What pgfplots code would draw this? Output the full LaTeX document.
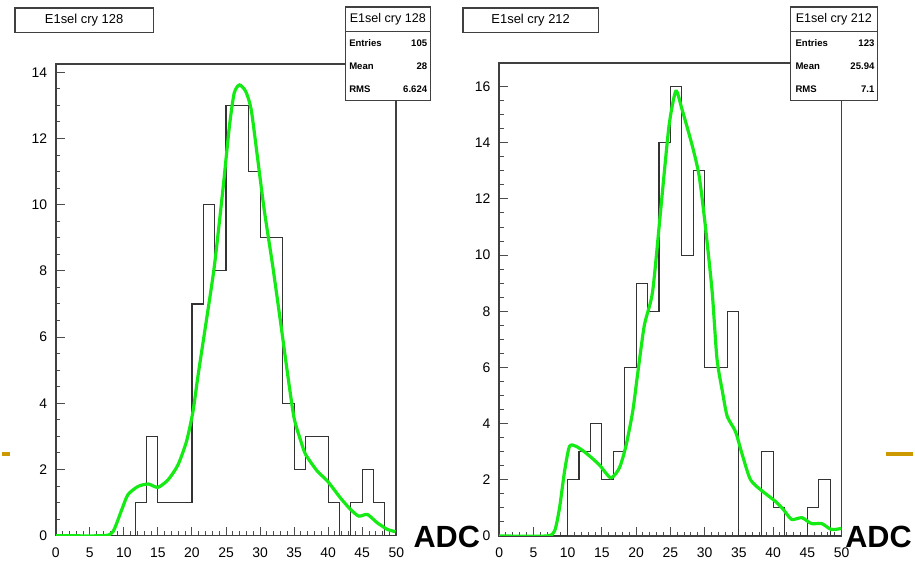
\documentclass[border=0pt]{standalone}
\usepackage{pgfplots}
\pgfplotsset{compat=1.18}
\usepackage{fontspec}
\setmainfont{Liberation Sans}
\definecolor{rootgreen}{RGB}{20,235,20}
\definecolor{gold}{RGB}{204,153,0}
\pgfplotsset{roothist/.style={
  scale only axis, anchor=south west,
  xmin=0, xmax=50, ymin=0,
  axis line style={black!75, line width=0.8pt},
  tick align=inside, tick pos=left,
  xtick={0,5,...,50}, minor x tick num=4,
  ytick distance=2, minor y tick num=3,
  major tick length=4.5pt, minor tick length=2.2pt,
  tick style={black!70, line width=0.5pt},
  ticklabel style={font=\fontsize{7}{8}\selectfont},
  /pgf/number format/assume math mode=true,
  xticklabel style={yshift=-2.5pt},
  yticklabel style={xshift=-0.8pt},
}}
\begin{document}
\begin{tikzpicture}
\path (0,0) rectangle (457.5pt,-280.5pt);
% left panel
\begin{axis}[roothist, at={(27pt,-269pt)}, width=171pt, height=237pt, ymax=14.26]
\addplot[const plot, black!80, line width=0.55pt] coordinates {
(0,0)(1.6667,0)(3.3333,0)(5,0)(6.6667,0)(8.3333,0)(10,0)(11.6667,1)(13.3333,3)(15,1)
(16.6667,1)(18.3333,1)(20,7)(21.6667,10)(23.3333,8)(25,13)(26.6667,13)(28.3333,11)(30,9)
(31.6667,9)(33.3333,4)(35,2)(36.6667,3)(38.3333,3)(40,1)(41.6667,0)(43.3333,1)(45,2)
(46.6667,1)(48.3333,0)(50,0)};
\addplot[rootgreen, line width=1.6pt, smooth, tension=0.4] coordinates {
(0,0)(7,0)(8.4,0.12)(9.7,0.79)(10.6,1.24)(12.1,1.49)(13.6,1.56)(15.0,1.46)(16.5,1.69)
(17.95,2.14)(19.2,2.85)(20.15,3.75)(20.9,4.85)(22.3,6.75)(23.3,8.16)(24.5,10.37)(25.5,12.37)
(26.2,13.37)(26.97,13.62)(27.9,13.42)(28.7,12.87)(29.66,11.37)(30.6,9.86)(31.85,8.16)
(33.07,6.36)(34.1,4.8)(35.0,3.55)(36.0,2.85)(36.7,2.45)(38.4,1.95)(39.9,1.65)(41.8,1.14)
(43.3,0.79)(44.5,0.59)(45.76,0.64)(47.2,0.39)(48.7,0.19)(49.9,0.12)};
\end{axis}
% right panel
\begin{axis}[roothist, at={(249.65pt,-269.15pt)}, width=172pt, height=237.5pt, ymax=16.84]
\addplot[const plot, black!80, line width=0.55pt] coordinates {
(0,0)(1.6667,0)(3.3333,0)(5,0)(6.6667,0)(8.3333,0)(10,2)(11.6667,3)(13.3333,4)(15,2)
(16.6667,3)(18.3333,6)(20,9)(21.6667,8)(23.3333,14)(25,16)(26.6667,10)(28.3333,13)(30,6)
(31.6667,6)(33.3333,8)(35,0)(36.6667,0)(38.3333,3)(40,1)(41.6667,0)(43.3333,0)(45,1)
(46.6667,2)(48.3333,0)(50,0)};
\addplot[rootgreen, line width=1.6pt, smooth, tension=0.4] coordinates {
(0,0)(6.9,0)(8.1,0.18)(8.82,1.0)(9.55,2.3)(10.27,3.19)(11.25,3.19)(12.7,2.95)(14.6,2.54)
(16.3,2.07)(17.55,2.42)(18.5,3.19)(19.5,4.43)(20.2,5.73)(21.2,7.5)(22.4,8.69)(23.6,11.64)
(24.8,14.6)(25.8,15.84)(26.7,15.19)(28.2,13.89)(29.2,12.82)(30.1,11.05)(31.1,8.69)
(31.8,6.32)(32.6,5.14)(33.3,4.26)(34.5,3.72)(35.5,2.89)(36.7,2.0)(38.4,1.6)(40.3,1.24)
(41.5,0.94)(42.7,0.59)(44.2,0.65)(45.6,0.44)(47.1,0.44)(48.5,0.23)(50,0.27)};
\end{axis}
% title boxes
\draw[black!75, line width=0.6pt, fill=white] (6.5pt,-4pt) rectangle (76pt,-16.5pt);
\node[font=\fontsize{6.5}{7}\selectfont] at (41.25pt,-10.25pt) {E1sel cry 128};
\draw[black!75, line width=0.6pt, fill=white] (231.5pt,-4pt) rectangle (299.5pt,-16.5pt);
\node[font=\fontsize{6.5}{7}\selectfont] at (265.5pt,-10.25pt) {E1sel cry 212};
% stats boxes
\draw[black!75, line width=0.6pt, fill=white] (172.5pt,-3.5pt) rectangle (215pt,-50.5pt);
\draw[black!75, line width=0.6pt] (172.5pt,-16pt) -- (215pt,-16pt);
\node[font=\fontsize{6.3}{7}\selectfont] at (193.75pt,-9.75pt) {E1sel cry 128};
\begin{scope}[every node/.style={font=\bfseries\fontsize{4.8}{5}\selectfont, inner sep=0pt}]
\node[anchor=west] at (174.2pt,-21.7pt) {Entries};
\node[anchor=east] at (213.7pt,-21.7pt) {105};
\node[anchor=west] at (174.2pt,-33.3pt) {Mean};
\node[anchor=east] at (213.7pt,-33.3pt) {28};
\node[anchor=west] at (174.2pt,-45pt) {RMS};
\node[anchor=east] at (213.7pt,-45pt) {6.624};
\end{scope}
\draw[black!75, line width=0.6pt, fill=white] (396pt,-3.5pt) rectangle (439.5pt,-50.5pt);
\draw[black!75, line width=0.6pt] (396pt,-16pt) -- (439.5pt,-16pt);
\node[font=\fontsize{6.3}{7}\selectfont] at (417.75pt,-9.75pt) {E1sel cry 212};
\begin{scope}[every node/.style={font=\bfseries\fontsize{4.8}{5}\selectfont, inner sep=0pt}]
\node[anchor=west] at (398.3pt,-21.7pt) {Entries};
\node[anchor=east] at (438.3pt,-21.7pt) {123};
\node[anchor=west] at (398.3pt,-33.3pt) {Mean};
\node[anchor=east] at (438.3pt,-33.3pt) {25.94};
\node[anchor=west] at (398.3pt,-45pt) {RMS};
\node[anchor=east] at (438.3pt,-45pt) {7.1};
\end{scope}
% ADC labels
\node[anchor=base west, inner sep=0pt, font=\bfseries\fontsize{15.4}{16}\selectfont] at (206.5pt,-275pt) {ADC};
\node[anchor=base west, inner sep=0pt, font=\bfseries\fontsize{15.4}{16}\selectfont] at (423.3pt,-275pt) {ADC};
% slide decorations
\draw[gold, line width=2pt] (0pt,-227.75pt) -- (4pt,-227.75pt);
\draw[gold, line width=2pt] (444pt,-228pt) -- (457.5pt,-228pt);
\end{tikzpicture}
\end{document}
